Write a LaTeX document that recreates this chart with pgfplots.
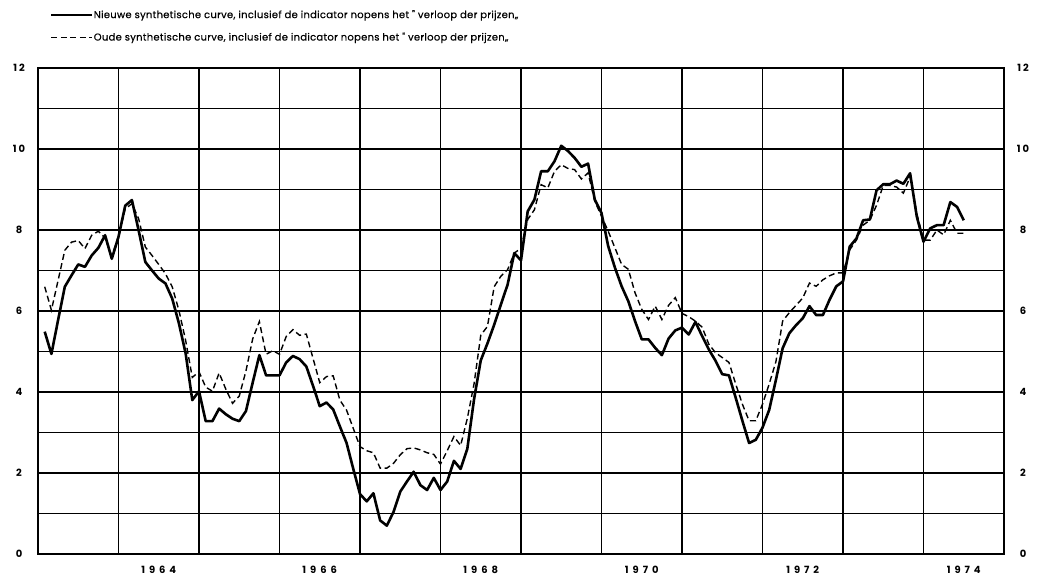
\documentclass[border=0pt]{standalone}
\usepackage{fontspec}
\setmainfont{Poppins}
\newfontfamily\legfont{Poppins}[LetterSpace=3, FakeBold=0.5]
\newfontfamily\ytfont{Poppins}[LetterSpace=20]
\newfontfamily\xtfont{Poppins}[LetterSpace=40]
\usepackage{pgfplots}
\usepackage{pgfplotstable}
\pgfplotsset{compat=1.18}

\pgfplotstableread{
k v
1 5.49
2 4.94
3 5.78
4 6.6
5 6.88
6 7.15
7 7.09
8 7.37
9 7.56
10 7.87
11 7.29
12 7.83
13 8.6
14 8.74
15 7.99
16 7.21
17 7.0
18 6.8
19 6.68
20 6.31
21 5.7
22 4.96
23 3.8
24 4.02
25 3.28
26 3.28
27 3.59
28 3.45
29 3.34
30 3.28
31 3.53
32 4.23
33 4.91
34 4.41
35 4.41
36 4.41
37 4.73
38 4.89
39 4.81
40 4.63
41 4.15
42 3.65
43 3.74
44 3.57
45 3.15
46 2.74
47 2.1
48 1.48
49 1.3
50 1.5
51 0.83
52 0.7
53 1.04
54 1.54
55 1.79
56 2.03
57 1.7
58 1.58
59 1.88
60 1.58
61 1.79
62 2.3
63 2.1
64 2.6
65 3.82
66 4.78
67 5.2
68 5.66
69 6.16
70 6.65
71 7.43
72 7.25
73 8.46
74 8.75
75 9.45
76 9.45
77 9.7
78 10.08
79 9.95
80 9.78
81 9.56
82 9.64
83 8.75
84 8.42
85 7.6
86 7.07
87 6.61
88 6.24
89 5.75
90 5.3
91 5.3
92 5.09
93 4.91
94 5.32
95 5.52
96 5.59
97 5.42
98 5.73
99 5.38
100 5.05
101 4.77
102 4.44
103 4.41
104 3.86
105 3.29
106 2.74
107 2.82
108 3.12
109 3.56
110 4.3
111 5.08
112 5.45
113 5.65
114 5.82
115 6.12
116 5.9
117 5.9
118 6.28
119 6.61
120 6.73
121 7.59
122 7.79
123 8.24
124 8.26
125 8.98
126 9.13
127 9.13
128 9.22
129 9.14
130 9.4
131 8.33
132 7.71
133 8.04
134 8.12
135 8.12
136 8.69
137 8.57
138 8.24
}\nieuwe

\pgfplotstableread{
k v
1 6.6
2 6.02
3 6.76
4 7.5
5 7.7
6 7.74
7 7.54
8 7.87
9 7.97
10 7.8
11 7.35
12 7.85
13 8.52
14 8.65
15 8.28
16 7.58
17 7.37
18 7.15
19 6.92
20 6.6
21 6.02
22 5.28
23 4.36
24 4.5
25 4.12
26 4.02
27 4.47
28 4.07
29 3.72
30 3.9
31 4.52
32 5.31
33 5.74
34 4.93
35 5.02
36 4.93
37 5.37
38 5.54
39 5.4
40 5.43
41 4.83
42 4.23
43 4.38
44 4.4
45 3.8
46 3.55
47 3.1
48 2.65
49 2.55
50 2.5
51 2.12
52 2.12
53 2.24
54 2.45
55 2.6
56 2.62
57 2.57
58 2.5
59 2.46
60 2.22
61 2.55
62 2.9
63 2.68
64 3.35
65 4.2
66 5.4
67 5.62
68 6.6
69 6.86
70 7.02
71 7.43
72 7.55
73 8.26
74 8.5
75 9.12
76 9.04
77 9.45
78 9.61
79 9.52
80 9.49
81 9.26
82 9.41
83 8.71
84 8.34
85 7.97
86 7.56
87 7.15
88 7.03
89 6.45
90 6.04
91 5.79
92 6.12
93 5.79
94 6.14
95 6.33
96 5.94
97 5.86
98 5.75
99 5.6
100 5.18
101 4.97
102 4.85
103 4.73
104 4.2
105 3.7
106 3.29
107 3.29
108 3.7
109 4.2
110 4.75
111 5.75
112 5.96
113 6.14
114 6.32
115 6.69
116 6.61
117 6.77
118 6.87
119 6.94
120 6.94
121 7.51
122 7.75
123 8.12
124 8.24
125 8.61
126 9.1
127 9.1
128 9.06
129 8.91
130 9.31
131 8.41
132 7.75
133 7.75
134 8.0
135 7.88
136 8.24
137 7.92
138 7.92
}\oude

\begin{document}
\begin{tikzpicture}
\path[use as bounding box] (-38bp,-23bp) rectangle (999bp,554bp);
\begin{axis}[
  scale only axis, width=966bp, height=486bp,
  xmin=0, xmax=144, ymin=0, ymax=12,
  xtick={18,42,66,90,114,138},
  xticklabels={1964,1966,1968,1970,1972,1974},
  minor xtick={0,12,...,144},
  ytick={0,2,...,12},
  minor ytick={1,3,...,11},
  xmajorgrids=false, xminorgrids=true,
  ymajorgrids=true, yminorgrids=true,
  major tick length=0pt, minor tick length=0pt,
  grid style={black, line width=1.1bp},
  minor grid style={black, line width=1.1bp},
  axis line style={black, line width=1.8bp},
  /pgf/number format/assume math mode=true,
  yticklabel style={font=\ytfont\bfseries\fontsize{10}{11}\selectfont, anchor=center, xshift=-19bp},
  xticklabel style={font=\xtfont\bfseries\fontsize{10}{11}\selectfont, anchor=center, yshift=-16bp},
  legend style={draw=none, fill=none, at={(axis description cs:0,1)}, anchor=north west,
    xshift=12bp, yshift=60bp, font=\legfont\fontsize{10}{11}\selectfont,
    row sep=9bp, column sep=-2bp, inner sep=0pt, nodes={inner sep=2pt}},
  legend cell align=left,
  legend image code/.code={\draw[#1] (0bp,0bp) -- (41bp,0bp);},
]
\addplot[black, line width=2.6bp, line join=round] table[x=k, y=v] {\nieuwe};
\addlegendentry{Nieuwe synthetische curve, inclusief de indicator nopens het "\ verloop der prijzen„}
\addplot[black, line width=1.4bp, dash pattern=on 6bp off 3.5bp] table[x=k, y=v] {\oude};
\addlegendentry{Oude synthetische curve, inclusief de indicator nopens het "\ verloop der prijzen„}
\end{axis}
\begin{axis}[
  scale only axis, width=966bp, height=486bp,
  xmin=0, xmax=144, ymin=0, ymax=12,
  axis x line=none, axis y line*=right,
  ytick={0,2,...,12},
  major tick length=0pt,
  axis line style={black, line width=1.8bp},
  /pgf/number format/assume math mode=true,
  yticklabel style={font=\ytfont\bfseries\fontsize{10}{11}\selectfont, anchor=center, xshift=19bp},
]
\end{axis}
\end{tikzpicture}
\end{document}
